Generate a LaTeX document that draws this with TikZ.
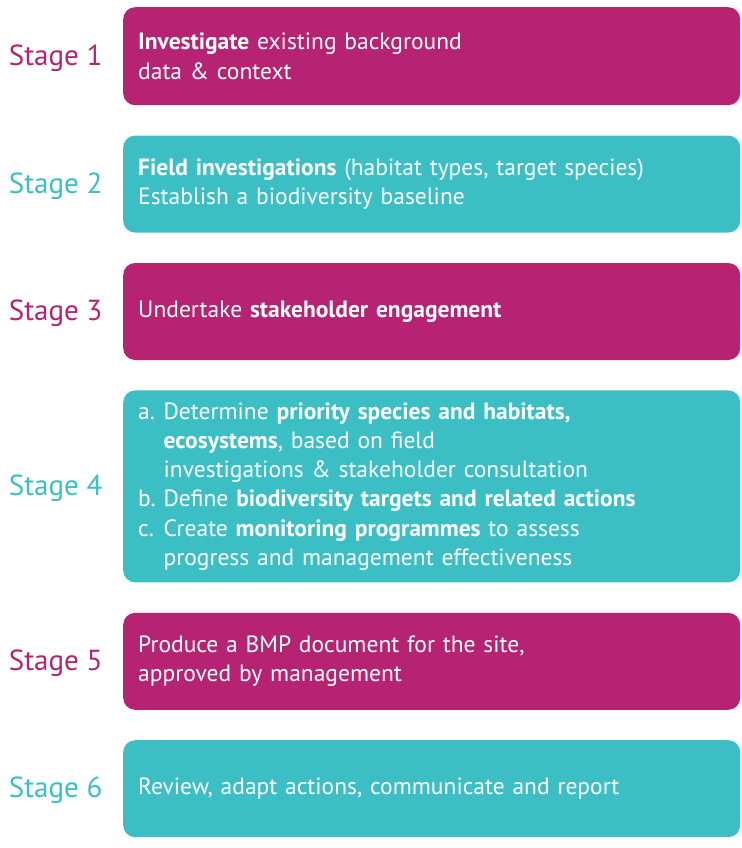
\documentclass[tikz,border=0pt]{standalone}
\usepackage{fontspec}
\setmainfont{PT Sans}
\usepackage{xcolor}
\usepackage{tikz}
\usetikzlibrary{positioning}
\definecolor{bmpmagenta}{HTML}{B52372}
\definecolor{bmpteal}{HTML}{3BBFC5}

\begin{document}
\begin{tikzpicture}[x=1pt, y=-1pt, node distance=30pt,
    stagebox/.style={rounded corners=12pt, minimum width=617pt, minimum height=97pt,
        text width=587pt, align=left, inner xsep=15pt, inner ysep=4pt, text=white,
        font=\fontsize{23.5}{29.3}\selectfont},
    stagelbl/.style={font=\fontsize{29}{32}\selectfont, yshift=-2pt},
    pinkbox/.style={stagebox, fill=bmpmagenta},
    tealbox/.style={stagebox, fill=bmpteal}]
    \useasboundingbox (0,0) rectangle (741,848);

    % Stage boxes
    \node[pinkbox, anchor=north west, minimum height=98pt] (s1) at (123,7)
        {\textbf{Investigate} existing background\\data \& context};
    \node[tealbox] (s2) [below=of s1]
        {\textbf{Field investigations} (habitat types, target species)\\Establish a biodiversity baseline};
    \node[pinkbox] (s3) [below=of s2] {Undertake \textbf{stakeholder engagement}};
    \node[tealbox, minimum height=192pt] (s4) [below=of s3]
        {\begin{tabular}{@{}l@{\hspace{8pt}}l@{}}
        a. & Determine \textbf{priority species and habitats,}\\
           & \textbf{ecosystems}, based on field\\
           & investigations \& stakeholder consultation\\
        b. & Define \textbf{biodiversity targets and related actions}\\
        c. & Create \textbf{monitoring programmes} to assess\\
           & progress and management effectiveness
        \end{tabular}};
    \node[pinkbox] (s5) [below=of s4]
        {Produce a BMP document for the site,\\approved by management};
    \node[tealbox] (s6) [below=of s5] {Review, adapt actions, communicate and report};

    % Stage labels
    \node[stagelbl, text=bmpmagenta] (l1) [left=17pt of s1] {Stage 1};
    \node[stagelbl, text=bmpteal] (l2) [left=17pt of s2] {Stage 2};
    \node[stagelbl, text=bmpmagenta] (l3) [left=17pt of s3] {Stage 3};
    \node[stagelbl, text=bmpteal] (l4) [left=17pt of s4] {Stage 4};
    \node[stagelbl, text=bmpmagenta] (l5) [left=17pt of s5] {Stage 5};
    \node[stagelbl, text=bmpteal] (l6) [left=17pt of s6] {Stage 6};
\end{tikzpicture}
\end{document}
